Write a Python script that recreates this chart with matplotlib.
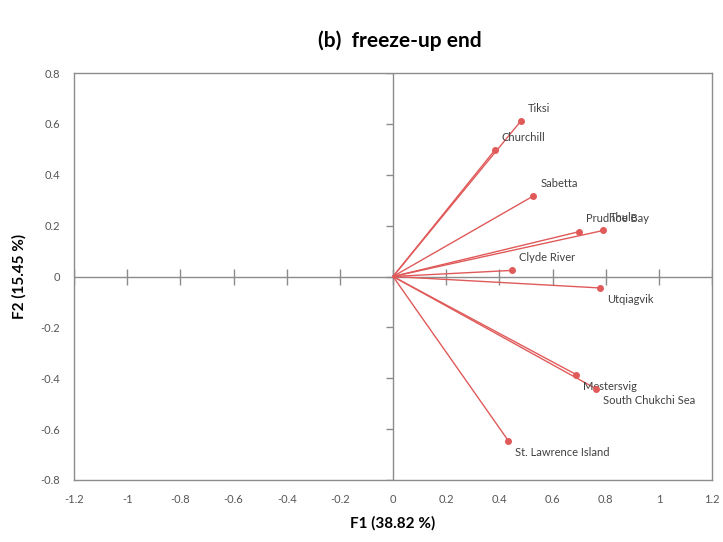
import matplotlib.pyplot as plt
from matplotlib.markers import TICKLEFT

# PCA loadings on F1 / F2
stations = ["Tiksi", "Churchill", "Sabetta", "Prudhoe Bay", "Thule", "Clyde River",
            "Utqiagvik", "Mestersvig", "South Chukchi Sea", "St. Lawrence Island"]
f1 = [0.48, 0.383, 0.527, 0.699, 0.791, 0.449, 0.778, 0.69, 0.763, 0.434]
f2 = [0.61, 0.497, 0.316, 0.176, 0.181, 0.024, -0.045, -0.386, -0.441, -0.646]

xticks = [-1.2, -1, -0.8, -0.6, -0.4, -0.2, 0, 0.2, 0.4, 0.6, 0.8, 1, 1.2]
yticks = [-0.8, -0.6, -0.4, -0.2, 0, 0.2, 0.4, 0.6, 0.8]

plt.rcParams["font.family"] = ["Lato", "DejaVu Sans"]

fig = plt.figure(figsize=(7.23, 5.42), dpi=100)
ax = fig.add_axes([0.1024, 0.1144, 0.8824, 0.7509])

red = "#e05a5a"
gray = "#8c8c8c"

# zero lines with their own tick marks
ax.axhline(0, color=gray, lw=1, zorder=1)
ax.axvline(0, color=gray, lw=1, zorder=1)
ax.plot(xticks, [0] * len(xticks), ls="", marker="|", ms=11, mew=1, color=gray, zorder=1)
ax.plot([0] * len(yticks), yticks, ls="", marker=TICKLEFT, ms=5, mew=1, color=gray, zorder=1)

for name, x, y in zip(stations, f1, f2):
    ax.plot([0, x], [0, y], color=red, lw=1, zorder=2)
    ax.plot(x, y, "o", color=red, ms=4, zorder=3)
    dy = 13 if y > 0 else -12
    ax.annotate(name, (x, y), xytext=(7, dy), textcoords="offset pixels",
                ha="left", va="center", fontsize=8, color="#404040")

ax.set_xlim(-1.2, 1.2)
ax.set_ylim(-0.8, 0.8)
ax.set_xticks(xticks)
ax.set_yticks(yticks)
ax.set_xticklabels([f"{t:g}" for t in xticks])
ax.set_yticklabels([f"{t:g}" for t in yticks])
ax.tick_params(length=0, labelsize=8, labelcolor="#555555", pad=10)
for s in ax.spines.values():
    s.set_color(gray)
    s.set_linewidth(1)

ax.set_xlabel("F1 (38.82 %)", fontsize=11, fontweight="bold", labelpad=8)
ax.set_ylabel("F2 (15.45 %)", fontsize=11, fontweight="bold", labelpad=10)
fig.text(0.553, 0.925, "(b)  freeze-up end", ha="center", va="center",
         fontsize=15, fontweight="bold")

fig.savefig("out.png", dpi=100)
